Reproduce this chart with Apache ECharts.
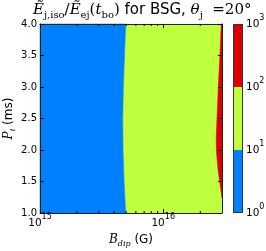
<!DOCTYPE html>
<html><head><meta charset="utf-8">
<script src="https://cdn.jsdelivr.net/npm/echarts@6/dist/echarts.min.js"></script>
<style>html,body{margin:0;padding:0;background:#fff}#c{width:266px;height:251px}</style>
</head><body><div id="c"></div>
<script>
// ---- data ----
const B_MIN = 1e15, B_MAX = 3e16;
const P_MIN = 1.0, P_MAX = 4.0;
const yTicks = [1.0, 1.5, 2.0, 2.5, 3.0, 3.5, 4.0];
const xMinorTicks = [2e15, 3e15, 4e15, 5e15, 6e15, 7e15, 8e15, 9e15, 2e16];
// boundary between level 1 (blue) and level 2 (green)
const P_edge1 = [4.0, 3.5, 3.0, 2.5, 2.0, 1.5, 1.0];
const B_edge1 = [4.96e15, 4.85e15, 4.75e15, 4.69e15, 4.72e15, 4.81e15, 4.96e15];
// boundary between level 2 (green) and level 3 (red)
const P_edge2 = [4.0, 3.54, 3.0, 2.48, 2.16, 1.95, 1.68, 1.42, 1.24];
const B_edge2 = [2.96e16, 2.89e16, 2.80e16, 2.73e16, 2.69e16, 2.71e16, 2.79e16, 2.91e16, 3.0e16];
const cbarLevels = [1, 10, 100, 1000];
const levelColors = ['#0080ff', '#bfff40', '#dd0000'];

// ---- region polygons (data coordinates) ----
const polyGreen = [[B_MIN, P_MAX], [B_MAX, P_MAX], [B_MAX, P_MIN], [B_MIN, P_MIN]];
const polyBlue = [[B_MIN, P_MAX]].concat(B_edge1.map((b, i) => [b, P_edge1[i]])).concat([[B_MIN, P_MIN]]);
const polyRed = B_edge2.map((b, i) => [b, P_edge2[i]]).concat([[B_MAX, P_edge2[P_edge2.length - 1]], [B_MAX, P_MAX]]);
const regions = [[polyGreen, 1], [polyBlue, 0], [polyRed, 2]];

const F = 'DejaVu Sans';
const richPow = {
  b: {fontFamily: F, fontSize: 10.5, color: '#000', lineHeight: 20, verticalAlign: 'middle'},
  s: {fontFamily: F, fontSize: 8, color: '#000', lineHeight: 8, verticalAlign: 'top'}
};
function powLabel(v) {
  const e = Math.log10(v);
  const r = Math.round(e);
  if (Math.abs(e - r) < 1e-6) return '{b|10}{s|' + r + '}';
  return '';
}
const tickStyle = {show: true, inside: true, length: 4, lineStyle: {color: '#000', width: 1}};
const lineStyle = {show: true, lineStyle: {color: '#222', width: 1}};
const mathRich = {
  i: {fontFamily: 'DejaVu Serif', fontStyle: 'italic', fontWeight: 'normal', fontSize: 12, color: '#000', lineHeight: 16, verticalAlign: 'middle'},
  sub: {fontFamily: 'DejaVu Serif', fontStyle: 'italic', fontWeight: 'normal', fontSize: 8, color: '#000', lineHeight: 8, verticalAlign: 'bottom'},
  n: {fontFamily: F, fontWeight: 'normal', fontSize: 12, color: '#000', lineHeight: 16, verticalAlign: 'middle'}
};

const chart = echarts.init(document.getElementById('c'), null, {renderer: 'canvas'});
chart.setOption({
  animation: false,
  title: {
    text: '{e|Ẽ}{sub|j,iso}{n|/}{e|Ẽ}{sub|ej}{n|(}{e|t}{sub|bo}{n|)}{s| for BSG, }{e|θ}{sub|j}{n|  =20°}',
    left: 33, top: 0, padding: 0,
    textStyle: {
      fontWeight: 'normal',
      rich: {
        e: {fontFamily: 'DejaVu Serif', fontStyle: 'italic', fontWeight: 'normal', fontSize: 15, color: '#000', lineHeight: 20, verticalAlign: 'middle'},
        n: {fontFamily: 'DejaVu Serif', fontWeight: 'normal', fontSize: 15, color: '#000', lineHeight: 20, verticalAlign: 'middle'},
        sub: {fontFamily: 'DejaVu Serif', fontWeight: 'normal', fontSize: 10, color: '#000', lineHeight: 10, verticalAlign: 'bottom'},
        s: {fontFamily: F, fontWeight: 'normal', fontSize: 15, color: '#000', lineHeight: 20, verticalAlign: 'middle'}
      }
    }
  },
  grid: [
    {left: 40, top: 24, width: 182, height: 189, outerBoundsMode: 'none', containLabel: false},
    {left: 233, top: 24, width: 10, height: 189, outerBoundsMode: 'none', containLabel: false}
  ],
  xAxis: [
    {type: 'log', logBase: 10, min: B_MIN, max: B_MAX, gridIndex: 0, z: 5,
     axisLine: lineStyle, axisTick: tickStyle, splitLine: {show: false},
     axisLabel: {formatter: powLabel, rich: richPow, margin: 0, showMaxLabel: false},
     name: '{i|B}{sub|dip}{n| (G)}', nameLocation: 'middle', nameGap: 19, nameMoveOverlap: false,
     nameTextStyle: {rich: mathRich}},
    {type: 'log', logBase: 10, min: B_MIN, max: B_MAX, gridIndex: 0, position: 'top', z: 5,
     axisLine: lineStyle, axisTick: tickStyle, axisLabel: {show: false}, splitLine: {show: false}},
    {type: 'value', min: 0, max: 1, gridIndex: 1, show: false}
  ],
  yAxis: [
    {type: 'value', min: P_MIN, max: P_MAX, interval: 0.5, gridIndex: 0, z: 5,
     axisLine: lineStyle, axisTick: tickStyle, splitLine: {show: false},
     axisLabel: {fontFamily: F, fontSize: 10, color: '#000', margin: 3, formatter: v => v.toFixed(1)},
     name: '{i|P}{sub|i}{n| (ms)}', nameLocation: 'middle', nameGap: 23, nameRotate: 90, nameMoveOverlap: false,
     nameTextStyle: {rich: mathRich}},
    {type: 'value', min: P_MIN, max: P_MAX, interval: 0.5, gridIndex: 0, position: 'right', z: 5,
     axisLine: lineStyle, axisTick: tickStyle, axisLabel: {show: false}, splitLine: {show: false}},
    {type: 'log', logBase: 10, min: cbarLevels[0], max: cbarLevels[cbarLevels.length - 1], gridIndex: 1, position: 'right', z: 5,
     axisLine: {show: false}, axisTick: {show: false}, splitLine: {show: false},
     axisLabel: {formatter: powLabel, rich: richPow, margin: 3, showMinLabel: true, showMaxLabel: true}}
  ],
  series: [
    {type: 'custom', xAxisIndex: 0, yAxisIndex: 0, z: 1, silent: true,
     data: regions.map((r, i) => [B_MIN, P_MIN, i]),
     renderItem: (params, api) => {
       const reg = regions[params.dataIndex];
       return {type: 'polygon', shape: {points: reg[0].map(p => api.coord(p))},
               style: {fill: levelColors[reg[1]], stroke: levelColors[reg[1]], lineWidth: 0.5}};
     }},
    {type: 'custom', xAxisIndex: 0, yAxisIndex: 0, z: 6, silent: true,
     data: xMinorTicks.map(v => [v, P_MIN]),
     renderItem: (params, api) => {
       const v = api.value(0);
       const b = api.coord([v, P_MIN]);
       const t = api.coord([v, P_MAX]);
       return {type: 'group', children: [
         {type: 'line', shape: {x1: b[0], y1: b[1], x2: b[0], y2: b[1] - 2}, style: {stroke: '#000', lineWidth: 1}},
         {type: 'line', shape: {x1: t[0], y1: t[1], x2: t[0], y2: t[1] + 2}, style: {stroke: '#000', lineWidth: 1}}
       ]};
     }},
    {type: 'custom', xAxisIndex: 2, yAxisIndex: 2, z: 1, silent: true,
     data: levelColors.map((c, i) => [0, cbarLevels[i], i]),
     renderItem: (params, api) => {
       const i = params.dataIndex;
       const lo = api.coord([0, cbarLevels[i]]);
       const hi = api.coord([1, cbarLevels[i + 1]]);
       return {type: 'rect', shape: {x: lo[0], y: hi[1], width: hi[0] - lo[0], height: lo[1] - hi[1]},
               style: {fill: levelColors[i]}};
     }},
    {type: 'custom', xAxisIndex: 2, yAxisIndex: 2, z: 6, silent: true,
     data: [[0, cbarLevels[0]]],
     renderItem: (params, api) => {
       const lo = api.coord([0, cbarLevels[0]]);
       const hi = api.coord([1, cbarLevels[cbarLevels.length - 1]]);
       return {type: 'rect', shape: {x: lo[0] + 0.5, y: hi[1] + 0.5, width: hi[0] - lo[0] - 1, height: lo[1] - hi[1] - 1},
               style: {fill: 'none', stroke: '#333', lineWidth: 1}};
     }}
  ]
});
</script></body></html>
